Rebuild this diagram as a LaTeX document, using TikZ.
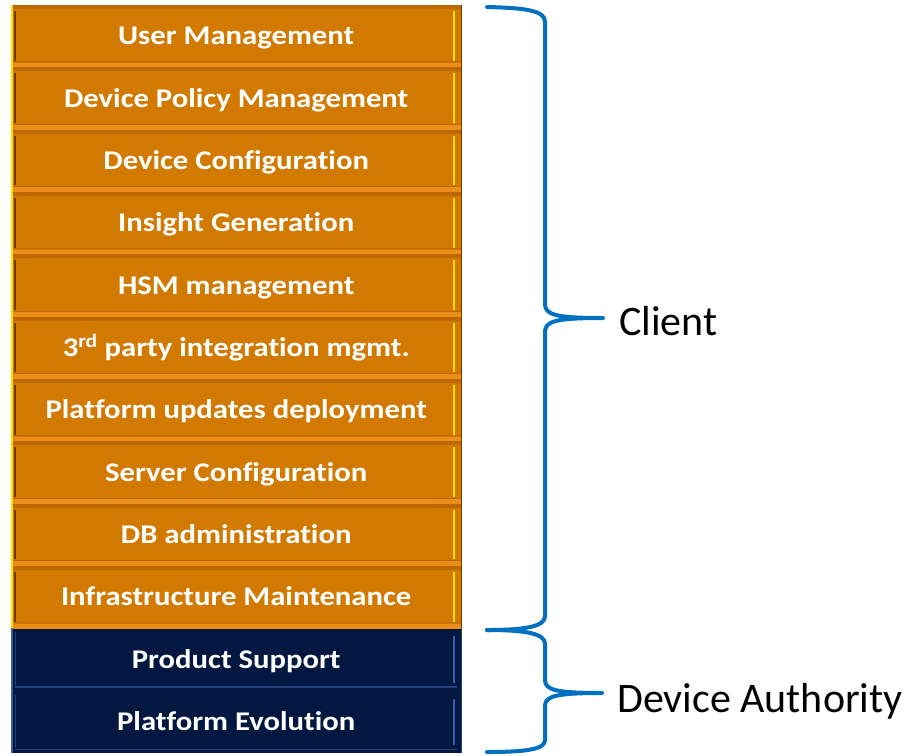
\documentclass[tikz,border=0pt]{standalone}
\usepackage{fontspec}
\setmainfont{Carlito}
\newfontfamily\layerfont[FakeStretch=1.137,Ligatures=NoCommon]{Carlito}
\usetikzlibrary{calc}
\definecolor{orangefill}{RGB}{210,122,0}
\definecolor{orangedark}{RGB}{188,104,0}
\definecolor{orangelight}{RGB}{234,142,24}
\definecolor{orangeshade}{RGB}{110,58,0}
\definecolor{edgeyellow}{RGB}{255,222,0}
\definecolor{navyfill}{RGB}{2,24,64}
\definecolor{navyline}{RGB}{36,62,128}
\definecolor{navyedge}{RGB}{60,90,170}
\definecolor{braceblue}{RGB}{0,112,192}

\begin{document}
\begin{tikzpicture}[x=1pt,y=-1pt,
    layer/.style={anchor=north west,minimum width=450pt,minimum height=62.33pt,
        inner sep=0pt,text=white,text height=18pt,text depth=1pt,
        font=\layerfont\fontsize{27}{32}\selectfont\bfseries},
    brace/.style={draw=braceblue,line width=4pt,line join=round,line cap=round},
    side/.style={anchor=base west,inner sep=0pt,font=\fontsize{42}{50}\selectfont}]
    \useasboundingbox (0,0) rectangle (918,755);
    \def\H{62.33}
    % client layers
    \foreach \t [count=\i from 0] in {User Management,Device Policy Management,
        Device Configuration,Insight Generation,HSM management,
        3\textsuperscript{rd} party integration mgmt.,Platform updates deployment,
        Server Configuration,DB administration,Infrastructure Maintenance} {
        \node[layer,fill=orangefill] (c\i) at (11,5+\i*\H) {\t};
        \fill[orangedark] (c\i.north west) rectangle ($(c\i.north east)+(0,4)$);
        \fill[orangelight] ($(c\i.south west)+(0,-5)$) rectangle (c\i.south east);
        \draw[orangedark,line width=1pt] ($(c\i.south west)+(0,-6)$) -- ($(c\i.south east)+(0,-6)$);
        \draw[orangeshade,line width=1.5pt] ($(c\i.north west)+(4,6)$) -- ($(c\i.south west)+(4,-7)$);
        \draw[edgeyellow,line width=2pt] ($(c\i.north east)+(-7,6)$) -- ($(c\i.south east)+(-7,-7)$);
    }
    % vendor layers
    \foreach \t [count=\i from 10] in {Product Support,Platform Evolution} {
        \node[layer,fill=navyfill] (c\i) at (11,5+\i*\H) {\t};
        \draw[navyline,line width=1.5pt] ($(c\i.south west)+(4,-4)$) -- ($(c\i.south east)+(-4,-4)$);
        \draw[navyline,line width=1pt] ($(c\i.north west)+(4,4)$) -- ($(c\i.south west)+(4,-6)$);
        \draw[navyedge,line width=2pt] ($(c\i.north east)+(-7,8)$) -- ($(c\i.south east)+(-7,-8)$);
    }
    \fill[edgeyellow] (c0.north west) rectangle ($(c9.south west)+(2,0)$);
    \fill[navyedge] (c10.north west) rectangle ($(c11.south west)+(2,0)$);
    \draw[orangeshade,line width=1pt] (c0.north east) -- (c9.south east);
    \draw[navyline,line width=1pt] (c10.north east) -- (c11.south east);

    % braces
    \coordinate (ctop) at (487,7);
    \coordinate (ctip) at (603,318);
    \coordinate (split) at (487,630);
    \coordinate (dtip) at (602,693);
    \coordinate (dbot) at (487,752);
    \draw[brace] (ctop) .. controls (528,8) and (545,11) .. (545,22) -- (545,304)
        .. controls (545,315) and (556,318) .. (ctip)
        .. controls (556,318) and (545,321) .. (545,332) -- (545,616)
        .. controls (545,626) and (528,630) .. (split);
    \draw[brace] (split) .. controls (528,630) and (545,634) .. (545,644) -- (545,680)
        .. controls (545,690) and (556,693) .. (dtip)
        .. controls (556,693) and (545,696) .. (545,706) -- (545,740)
        .. controls (545,749) and (528,752) .. (dbot);

    \node[side] (client) at (619,335) {Client};
    \node[side] (vendor) at (617,712) {Device Authority};
\end{tikzpicture}
\end{document}
